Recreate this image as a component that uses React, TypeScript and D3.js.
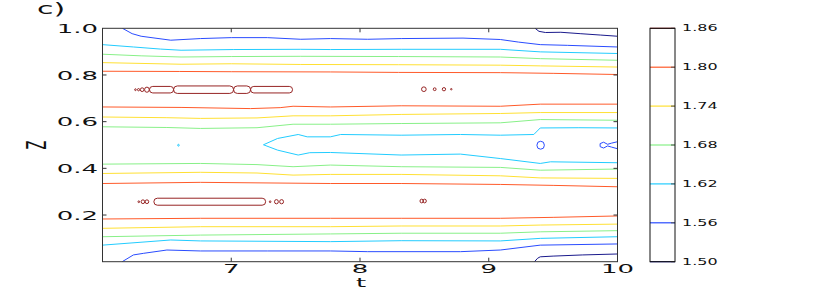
import React from 'react';
import * as d3 from 'd3';

type Pt = [number, number];

// contour levels and their colorbar labels
const levels = [1.5, 1.56, 1.62, 1.68, 1.74, 1.8, 1.86];
const levelLabels = ['1.50', '1.56', '1.62', '1.68', '1.74', '1.80', '1.86'];
const levelColors = ['#1a1a8c', '#2a4cff', '#22ccff', '#88f088', '#ffe033', '#ff5a2a', '#962424'];

const xTicks = [7, 8, 9, 10];
const yTicks = [0.2, 0.4, 0.6, 0.8, 1.0];

// open contour lines, points are [t, Z]
const c150Top: Pt[] = [[9.36, 1.0], [9.39, 0.987], [9.44, 0.982], [9.56, 0.983], [9.71, 0.977], [9.87, 0.971], [10, 0.966]];
const c156Top: Pt[] = [[6.155, 1.0], [6.23, 0.977], [6.3, 0.966], [6.53, 0.949], [6.76, 0.956], [7.0, 0.96], [7.28, 0.96], [7.54, 0.953], [7.77, 0.956], [8.06, 0.953], [8.32, 0.956], [8.8, 0.958], [9.09, 0.952], [9.23, 0.941], [9.4, 0.93], [9.61, 0.927], [10, 0.92]];
const c162Top: Pt[] = [[6.0, 0.93], [6.24, 0.92], [6.45, 0.911], [6.61, 0.906], [7.02, 0.909], [7.54, 0.91], [7.77, 0.909], [8.32, 0.91], [9.09, 0.91], [9.4, 0.899], [10, 0.892]];
const c168Top: Pt[] = [[6.0, 0.889], [6.3, 0.882], [6.61, 0.877], [7.0, 0.879], [7.54, 0.88], [8.3, 0.879], [9.09, 0.877], [9.4, 0.87], [10, 0.863]];
const c174Top: Pt[] = [[6.0, 0.853], [6.61, 0.846], [7.0, 0.848], [7.54, 0.845], [8.3, 0.844], [9.09, 0.842], [9.4, 0.839], [10, 0.834]];
const c180Top: Pt[] = [[6.0, 0.816], [6.6, 0.815], [7.0, 0.814], [7.77, 0.813], [8.3, 0.811], [9.09, 0.81], [9.5, 0.807], [10, 0.802]];
const c180MidA: Pt[] = [[6.0, 0.663], [6.61, 0.661], [7.15, 0.656], [7.38, 0.66], [7.48, 0.666], [7.77, 0.663], [8.32, 0.668], [9.09, 0.666], [9.4, 0.675], [10, 0.675]];
const c174MidA: Pt[] = [[6.0, 0.62], [6.5, 0.617], [6.76, 0.614], [7.2, 0.616], [7.48, 0.625], [7.77, 0.625], [8.32, 0.631], [9.09, 0.635], [9.4, 0.639], [10, 0.639]];
const c168MidA: Pt[] = [[6.0, 0.578], [6.5, 0.575], [6.76, 0.571], [7.2, 0.574], [7.48, 0.589], [7.77, 0.589], [8.32, 0.592], [9.09, 0.595], [9.4, 0.609], [10, 0.606]];
const c162Mid: Pt[] = [[10, 0.573], [9.7, 0.574], [9.4, 0.573], [9.35, 0.545], [9.09, 0.542], [8.78, 0.545], [8.32, 0.542], [7.85, 0.545], [7.77, 0.535], [7.59, 0.535], [7.52, 0.545], [7.36, 0.528], [7.25, 0.501], [7.36, 0.478], [7.52, 0.457], [7.61, 0.467], [7.77, 0.468], [8.32, 0.457], [8.78, 0.461], [9.09, 0.442], [9.4, 0.421], [9.48, 0.428], [10, 0.424]];
const c168MidB: Pt[] = [[6.0, 0.418], [6.76, 0.421], [7.2, 0.416], [7.48, 0.407], [7.77, 0.414], [8.32, 0.407], [9.09, 0.404], [9.4, 0.392], [10, 0.397]];
const c174MidB: Pt[] = [[6.0, 0.378], [6.76, 0.383], [7.2, 0.38], [7.48, 0.371], [7.77, 0.374], [8.32, 0.374], [9.09, 0.368], [9.4, 0.359], [10, 0.357]];
const c180MidB: Pt[] = [[6.0, 0.335], [6.76, 0.34], [7.77, 0.335], [8.32, 0.335], [9.09, 0.331], [9.5, 0.327], [10, 0.321]];
const c180Bot: Pt[] = [[6.0, 0.183], [6.76, 0.186], [7.77, 0.186], [8.32, 0.186], [9.09, 0.186], [9.5, 0.19], [10, 0.196]];
const c174Bot: Pt[] = [[6.0, 0.143], [6.76, 0.15], [7.77, 0.15], [8.32, 0.153], [9.09, 0.153], [9.4, 0.157], [10, 0.161]];
const c168Bot: Pt[] = [[6.0, 0.107], [6.76, 0.114], [7.77, 0.119], [8.32, 0.122], [9.09, 0.122], [9.4, 0.128], [10, 0.133]];
const c162Bot: Pt[] = [[6.0, 0.071], [6.53, 0.093], [6.76, 0.089], [7.77, 0.086], [8.32, 0.09], [9.09, 0.089], [9.4, 0.1], [10, 0.107]];
const c156Bot: Pt[] = [[6.153, 0.0], [6.24, 0.029], [6.32, 0.036], [6.5, 0.05], [6.76, 0.046], [7.28, 0.046], [7.77, 0.046], [8.06, 0.043], [8.78, 0.043], [9.09, 0.05], [9.4, 0.071], [10, 0.076]];
const c150Bot: Pt[] = [[9.355, 0.0], [9.38, 0.015], [9.4, 0.021], [9.5, 0.024], [9.73, 0.029], [10, 0.033]];
const c156RightLoop: Pt[] = [[10, 0.514], [9.954, 0.508], [9.923, 0.503], [9.892, 0.512], [9.865, 0.506], [9.865, 0.493], [9.892, 0.487], [9.923, 0.496], [9.954, 0.491], [10, 0.484]];

// elongated closed 1.86 loops: [t start, t end, Z centre, half height]
const blobs186: [number, number, number, number][] = [
  [6.365, 6.552, 0.737, 0.014],
  [6.552, 7.018, 0.737, 0.016],
  [7.018, 7.15, 0.737, 0.016],
  [7.15, 7.476, 0.737, 0.014],
  [6.399, 7.267, 0.257, 0.015],
];

// small closed loops: [t, Z, half width in t, half height in Z, level index]
const dots: [number, number, number, number, number][] = [
  [6.256, 0.737, 0.006, 0.004, 6],
  [6.28, 0.737, 0.008, 0.005, 6],
  [6.308, 0.737, 0.014, 0.008, 6],
  [6.345, 0.737, 0.018, 0.011, 6],
  [8.496, 0.739, 0.018, 0.01, 6],
  [8.58, 0.739, 0.011, 0.006, 6],
  [8.652, 0.739, 0.013, 0.007, 6],
  [8.709, 0.739, 0.006, 0.003, 6],
  [6.282, 0.257, 0.006, 0.004, 6],
  [6.314, 0.257, 0.014, 0.008, 6],
  [6.345, 0.257, 0.014, 0.008, 6],
  [7.302, 0.257, 0.006, 0.004, 6],
  [7.351, 0.257, 0.015, 0.009, 6],
  [7.391, 0.257, 0.015, 0.009, 6],
  [8.479, 0.26, 0.013, 0.008, 6],
  [8.502, 0.26, 0.013, 0.008, 6],
  [9.403, 0.499, 0.029, 0.017, 1],
  [6.59, 0.499, 0.006, 0.004, 2],
];

const lines: { lvl: number; pts: Pt[] }[] = [
  { lvl: 0, pts: c150Top }, { lvl: 1, pts: c156Top }, { lvl: 2, pts: c162Top },
  { lvl: 3, pts: c168Top }, { lvl: 4, pts: c174Top }, { lvl: 5, pts: c180Top },
  { lvl: 5, pts: c180MidA }, { lvl: 4, pts: c174MidA }, { lvl: 3, pts: c168MidA },
  { lvl: 2, pts: c162Mid }, { lvl: 3, pts: c168MidB }, { lvl: 4, pts: c174MidB },
  { lvl: 5, pts: c180MidB }, { lvl: 5, pts: c180Bot }, { lvl: 4, pts: c174Bot },
  { lvl: 3, pts: c168Bot }, { lvl: 2, pts: c162Bot }, { lvl: 1, pts: c156Bot },
  { lvl: 0, pts: c150Bot }, { lvl: 1, pts: c156RightLoop },
];

const FONT = 'DejaVu Sans, sans-serif';

export default function App() {
  const W = 830, H = 291;
  const left = 102.5, right = 617.5, top = 28.3, bottom = 261.7;
  const x = d3.scaleLinear().domain([6, 10]).range([left, right]);
  const y = d3.scaleLinear().domain([0, 1]).range([bottom, top]);
  const line = d3.line<Pt>().x(d => x(d[0])).y(d => y(d[1])).curve(d3.curveLinear);

  // colorbar
  const cbL = 650, cbR = 675;
  const cy = d3.scaleLinear().domain([1.5, 1.86]).range([bottom, top]);

  return (
    <svg width={W} height={H} style={{ position: 'absolute', left: 0, top: 0, background: '#fff' }}>
      <defs>
        <clipPath id="plot">
          <rect x={left} y={top} width={right - left} height={bottom - top} />
        </clipPath>
      </defs>

      <g clipPath="url(#plot)" fill="none" strokeWidth={1}>
        {lines.map((l, i) => (
          <path key={i} d={line(l.pts) || ''} stroke={levelColors[l.lvl]} />
        ))}
        {blobs186.map((b, i) => {
          const hh = y(b[2] - b[3]) - y(b[2] + b[3]);
          return (
            <rect key={'b' + i} x={x(b[0])} y={y(b[2] + b[3])} width={x(b[1]) - x(b[0])} height={hh}
              rx={hh / 2} ry={hh / 2} stroke={levelColors[6]} />
          );
        })}
        {dots.map((d, i) => (
          <ellipse key={'d' + i} cx={x(d[0])} cy={y(d[1])} rx={x(d[0] + d[2]) - x(d[0])}
            ry={y(d[1]) - y(d[1] + d[3])} stroke={levelColors[d[4]]} />
        ))}
      </g>

      {/* frame */}
      <rect x={left} y={top} width={right - left} height={bottom - top} fill="none" stroke="#333" strokeWidth={1} />
      {xTicks.filter(t => t < 10).map(t => (
        <g key={'xt' + t} stroke="#333">
          <line x1={x(t)} x2={x(t)} y1={bottom} y2={bottom - 4} />
          <line x1={x(t)} x2={x(t)} y1={top} y2={top + 4} />
        </g>
      ))}
      {yTicks.filter(v => v < 1).map(v => (
        <g key={'yt' + v} stroke="#333">
          <line x1={left} x2={left + 4} y1={y(v)} y2={y(v)} />
          <line x1={right} x2={right - 4} y1={y(v)} y2={y(v)} />
        </g>
      ))}

      {/* tick labels, stretched horizontally like the source */}
      {xTicks.map(t => (
        <g key={'xl' + t} transform={`translate(${x(t)},272.5) scale(2,1)`}>
          <text textAnchor="middle" fontFamily={FONT} fontSize={13} fill="#111">{t}</text>
        </g>
      ))}
      {yTicks.map(v => (
        <g key={'yl' + v} transform={`translate(98,${y(v)}) scale(2,1)`}>
          <text textAnchor="end" dy="0.36em" fontFamily={FONT} fontSize={13} fill="#111">{v.toFixed(1)}</text>
        </g>
      ))}
      <g transform="translate(361,287) scale(2,1)">
        <text textAnchor="middle" fontFamily={FONT} fontSize={13} fill="#111">t</text>
      </g>
      <g transform="translate(46,145) scale(2,1) rotate(-90)">
        <text textAnchor="middle" fontFamily={FONT} fontSize={13} fill="#111">Z</text>
      </g>
      <g transform="translate(37,14) scale(2,1)">
        <text fontFamily={FONT} fontSize={15} fill="#111">c)</text>
      </g>

      {/* colorbar */}
      {levels.map((lv, i) => (
        <g key={'cb' + i}>
          <line x1={cbL} x2={cbR} y1={cy(lv)} y2={cy(lv)} stroke={levelColors[i]} strokeWidth={1.2} />
          <line x1={cbR - 4} x2={cbR} y1={cy(lv)} y2={cy(lv)} stroke="#555" strokeWidth={1} />
          <g transform={`translate(682,${cy(lv)}) scale(2,1)`}>
            <text dy="0.36em" fontFamily={FONT} fontSize={8} fill="#111">{levelLabels[i]}</text>
          </g>
        </g>
      ))}
      <rect x={cbL} y={top} width={cbR - cbL} height={bottom - top} fill="none" stroke="#111" strokeWidth={1} />
    </svg>
  );
}
